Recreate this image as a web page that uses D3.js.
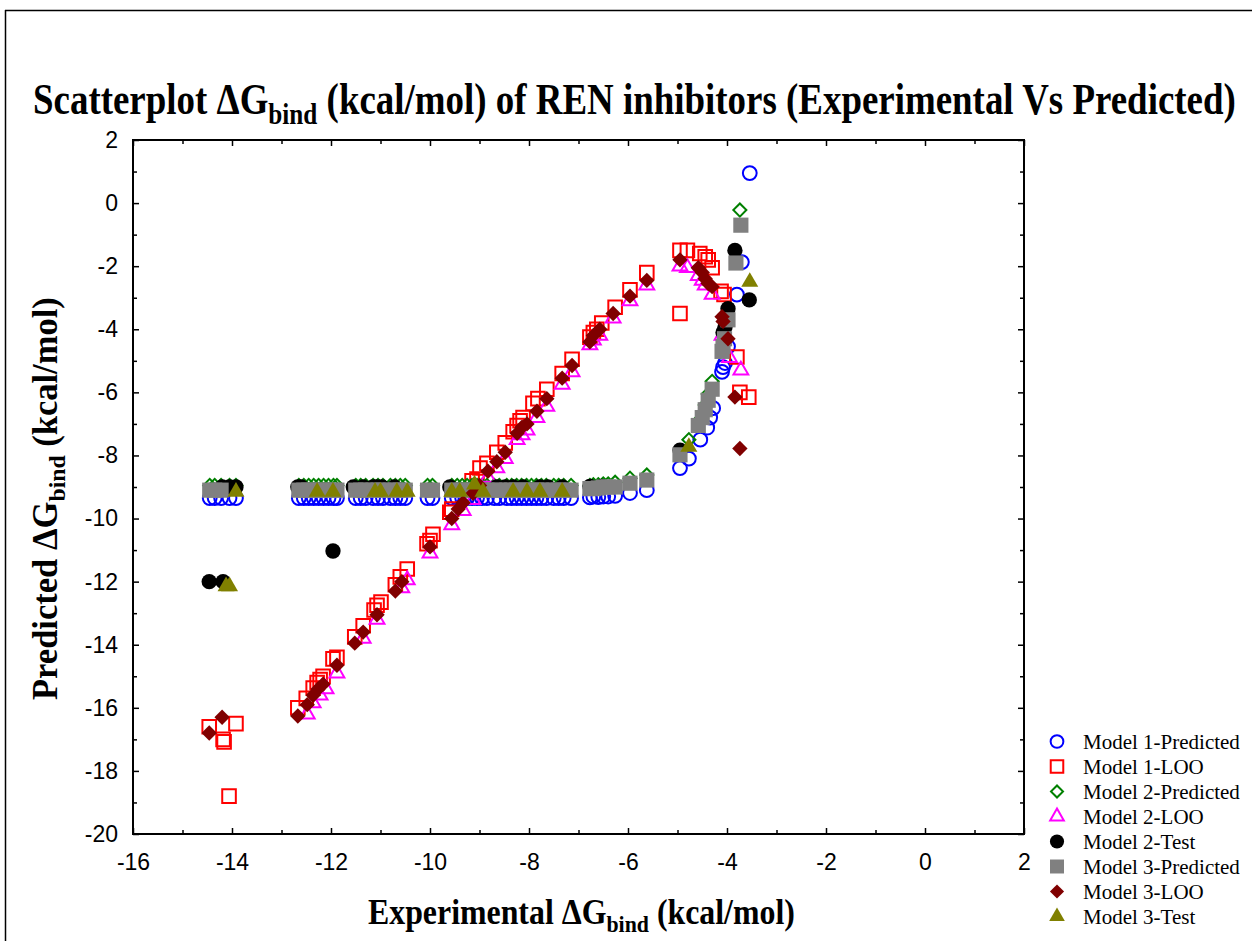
<!DOCTYPE html>
<html>
<head>
<meta charset="utf-8">
<script src="https://cdn.jsdelivr.net/npm/d3@7"></script>
<style>
  body { margin: 0; background: #fff; }
  svg { display: block; }
</style>
</head>
<body>
<svg id="chart" width="1252" height="941"></svg>
<script>

// ---- data (experimental dG, predicted dG) ----

var xTicks = [-16, -14, -12, -10, -8, -6, -4, -2, 0, 2];
var yTicks = [-20, -18, -16, -14, -12, -10, -8, -6, -4, -2, 0, 2];

var m1Pred = [
  [-14.45,-9.35],[-14.35,-9.35],[-14.22,-9.35],[-14.05,-9.35],[-13.92,-9.35],
  [-12.65,-9.35],[-12.55,-9.35],[-12.45,-9.35],[-12.35,-9.35],[-12.25,-9.35],[-12.15,-9.35],[-12.05,-9.35],[-11.95,-9.35],[-11.88,-9.35],
  [-11.5,-9.35],[-11.4,-9.35],[-11.3,-9.35],[-11.15,-9.35],[-11.05,-9.35],[-10.95,-9.35],[-10.8,-9.35],[-10.7,-9.35],[-10.6,-9.35],[-10.5,-9.35],
  [-10.05,-9.35],[-9.95,-9.35],
  [-9.56,-9.35],[-9.45,-9.35],[-9.35,-9.35],[-9.25,-9.35],[-9.15,-9.35],[-9.05,-9.35],[-8.95,-9.35],[-8.85,-9.35],[-8.7,-9.35],[-8.6,-9.35],
  [-8.45,-9.35],[-8.35,-9.35],[-8.25,-9.35],[-8.15,-9.35],[-8.05,-9.35],[-7.95,-9.35],[-7.85,-9.35],[-7.75,-9.35],[-7.65,-9.35],[-7.5,-9.35],
  [-7.4,-9.35],[-7.3,-9.35],[-7.15,-9.35],
  [-6.77,-9.33],[-6.7,-9.3],[-6.6,-9.32],[-6.5,-9.3],[-6.4,-9.3],[-6.26,-9.28],[-5.96,-9.19],[-5.62,-9.1],
  [-4.95,-8.4],[-4.77,-8.1],[-4.54,-7.5],[-4.4,-7.12],[-4.34,-6.8],[-4.28,-6.5],[-4.1,-5.35],[-4.08,-5.2],[-4.04,-5.07],
  [-3.98,-4.55],[-3.8,-2.9],[-3.7,-1.87],[-3.54,0.95]
];

var m1Loo = [
  [-14.46,-16.6],[-13.92,-16.5],[-14.18,-17.0],[-14.16,-17.08],[-14.06,-18.8],
  [-12.67,-16.0],[-12.5,-15.7],[-12.36,-15.37],[-12.28,-15.2],[-12.22,-15.1],[-12.16,-15.0],[-11.96,-14.45],[-11.88,-14.4],
  [-11.52,-13.75],[-11.35,-13.4],[-11.13,-12.9],[-11.07,-12.75],[-10.99,-12.65],[-10.7,-12.1],[-10.6,-11.85],[-10.46,-11.6],
  [-10.06,-10.8],[-10.0,-10.7],[-9.94,-10.5],[-9.6,-9.8],[-9.56,-9.7],[-9.15,-8.8],[-9.05,-8.75],[-8.99,-8.4],[-8.85,-8.25],
  [-8.65,-7.9],[-8.48,-7.6],[-8.32,-7.25],[-8.24,-7.05],[-8.18,-6.9],[-8.12,-6.8],[-7.92,-6.35],[-7.82,-6.2],[-7.64,-5.9],
  [-7.33,-5.4],[-7.13,-4.95],[-6.77,-4.25],[-6.7,-4.1],[-6.63,-4.0],[-6.53,-3.8],[-6.26,-3.3],[-5.96,-2.75],[-5.62,-2.2],
  [-4.95,-1.5],[-4.8,-1.5],[-4.55,-1.6],[-4.44,-1.7],[-4.38,-1.8],[-4.3,-2.05],[-4.12,-2.8],[-4.06,-2.9],
  [-4.95,-3.5],[-3.8,-4.88],[-3.74,-6.0],[-3.56,-6.15]
];

var m2Pred = [
  [-14.45,-8.95],[-14.35,-8.95],[-14.22,-8.95],[-14.05,-8.95],[-13.92,-8.95],
  [-12.65,-8.95],[-12.55,-8.95],[-12.45,-8.95],[-12.35,-8.95],[-12.25,-8.95],[-12.15,-8.95],[-12.05,-8.95],[-11.95,-8.95],[-11.88,-8.95],
  [-11.5,-8.95],[-11.4,-8.95],[-11.3,-8.95],[-11.15,-8.95],[-11.05,-8.95],[-10.95,-8.95],[-10.8,-8.95],[-10.7,-8.95],[-10.6,-8.95],[-10.5,-8.95],
  [-10.05,-8.95],[-9.95,-8.95],
  [-9.56,-8.95],[-9.45,-8.95],[-9.35,-8.95],[-9.25,-8.95],[-9.15,-8.95],[-9.05,-8.95],[-8.95,-8.95],[-8.85,-8.95],[-8.7,-8.95],[-8.6,-8.95],
  [-8.45,-8.95],[-8.35,-8.95],[-8.25,-8.95],[-8.15,-8.95],[-8.05,-8.95],[-7.95,-8.95],[-7.85,-8.95],[-7.75,-8.95],[-7.65,-8.95],[-7.5,-8.95],
  [-7.4,-8.95],[-7.3,-8.95],[-7.15,-8.95],
  [-6.77,-8.95],[-6.7,-8.93],[-6.6,-8.93],[-6.5,-8.9],[-6.4,-8.9],[-6.26,-8.85],[-5.96,-8.72],[-5.62,-8.62],
  [-4.77,-7.5],[-4.54,-6.85],[-4.44,-6.4],[-4.38,-6.05],[-4.3,-5.65],[-3.74,-0.22]
];

var m2Loo = [
  [-12.48,-16.2],[-12.36,-15.85],[-12.22,-15.6],[-12.1,-15.4],[-11.88,-14.9],[-11.35,-13.8],[-11.07,-13.2],
  [-10.57,-12.2],[-10.46,-11.95],[-10.0,-11.1],[-9.56,-10.2],[-9.33,-9.75],[-9.13,-9.4],[-8.83,-8.7],[-8.65,-8.4],
  [-8.48,-8.1],[-8.24,-7.5],[-8.14,-7.35],[-8.04,-7.2],[-7.84,-6.8],[-7.64,-6.45],[-7.33,-5.75],[-7.13,-5.35],
  [-6.77,-4.5],[-6.7,-4.35],[-6.57,-4.2],[-6.3,-3.65],[-5.96,-3.1],[-5.62,-2.6],
  [-4.95,-2.0],[-4.8,-2.05],[-4.58,-2.3],[-4.5,-2.45],[-4.44,-2.6],[-4.3,-2.9],[-4.1,-4.2],[-3.95,-4.9],[-3.72,-5.3]
];

var m2Test = [
  [-14.46,-12.0],[-14.18,-12.0],[-11.96,-11.03],
  [-14.2,-9.0],[-14.05,-9.0],[-13.92,-9.0],[-12.67,-9.0],[-12.6,-9.0],[-11.55,-9.0],[-11.35,-9.0],[-11.15,-9.0],
  [-11.07,-9.0],[-10.97,-9.0],[-10.72,-9.0],[-9.6,-9.0],[-8.65,-9.0],[-8.48,-9.0],[-8.32,-9.0],[-8.12,-9.0],
  [-7.78,-9.0],[-7.62,-9.0],[-7.33,-9.0],[-6.77,-8.98],[-6.53,-8.98],
  [-4.95,-7.83],[-4.08,-4.1],[-4.04,-3.93],[-3.98,-3.35],[-3.84,-1.5],[-3.55,-3.07]
];

var m3Pred = [
  [-14.45,-9.1],[-14.35,-9.1],[-14.22,-9.1],
  [-12.65,-9.1],[-12.55,-9.1],[-12.45,-9.1],[-12.35,-9.1],[-12.25,-9.1],[-12.15,-9.1],[-12.05,-9.1],[-11.95,-9.1],[-11.88,-9.1],
  [-11.5,-9.1],[-11.4,-9.1],[-11.3,-9.1],[-11.15,-9.1],[-11.05,-9.1],[-10.95,-9.1],[-10.8,-9.1],[-10.7,-9.1],[-10.6,-9.1],[-10.5,-9.1],
  [-10.05,-9.1],[-9.95,-9.1],
  [-9.56,-9.1],[-9.45,-9.1],[-9.35,-9.1],[-9.25,-9.1],[-9.15,-9.1],[-9.05,-9.1],[-8.95,-9.1],[-8.85,-9.1],[-8.7,-9.1],[-8.6,-9.1],
  [-8.45,-9.1],[-8.35,-9.1],[-8.25,-9.1],[-8.15,-9.1],[-8.05,-9.1],[-7.95,-9.1],[-7.85,-9.1],[-7.75,-9.1],[-7.65,-9.1],[-7.5,-9.1],
  [-7.4,-9.1],[-7.3,-9.1],[-7.15,-9.1],
  [-6.77,-9.05],[-6.7,-9.05],[-6.6,-9.03],[-6.5,-9.0],[-6.4,-9.0],[-6.26,-9.0],[-5.96,-8.88],[-5.62,-8.78],
  [-4.95,-7.98],[-4.58,-7.05],[-4.5,-6.8],[-4.44,-6.55],[-4.38,-6.25],[-4.3,-5.9],[-4.1,-4.7],[-4.08,-4.55],[-4.05,-4.3],
  [-3.98,-3.7],[-3.82,-1.9],[-3.72,-0.7]
];

var m3Loo = [
  [-14.46,-16.8],[-14.2,-16.3],
  [-12.67,-16.26],[-12.48,-15.9],[-12.36,-15.6],[-12.26,-15.4],[-12.16,-15.25],[-11.88,-14.65],[-11.52,-13.95],[-11.35,-13.6],
  [-11.07,-13.05],[-10.7,-12.3],[-10.57,-12.0],[-10.0,-10.9],[-9.56,-10.0],[-9.43,-9.7],[-9.33,-9.5],[-9.13,-9.2],[-9.0,-8.95],
  [-8.83,-8.5],[-8.65,-8.2],[-8.48,-7.9],[-8.24,-7.3],[-8.14,-7.1],[-8.04,-7.0],[-7.84,-6.6],[-7.64,-6.2],[-7.33,-5.55],
  [-7.13,-5.15],[-6.77,-4.4],[-6.7,-4.2],[-6.57,-4.0],[-6.3,-3.5],[-5.96,-2.95],[-5.62,-2.45],
  [-4.95,-1.8],[-4.58,-2.05],[-4.5,-2.2],[-4.44,-2.4],[-4.38,-2.55],[-4.3,-2.65],[-4.1,-3.6],[-4.08,-3.75],[-3.98,-4.3],
  [-3.84,-6.15],[-3.74,-7.78]
];

var m3Test = [
  [-14.12,-12.15],[-14.05,-12.15],
  [-13.92,-9.15],[-12.28,-9.15],[-11.96,-9.15],[-11.11,-9.15],[-11.0,-9.15],[-10.67,-9.15],[-10.46,-9.15],
  [-9.56,-9.15],[-9.4,-9.15],[-9.1,-8.92],[-8.93,-9.15],[-8.32,-9.15],[-8.04,-9.15],[-7.78,-9.15],[-7.33,-9.15],
  [-4.77,-7.73],[-3.54,-2.5]
];

var seriesNames = ['Model 1-Predicted', 'Model 1-LOO', 'Model 2-Predicted', 'Model 2-LOO',
                   'Model 2-Test', 'Model 3-Predicted', 'Model 3-LOO', 'Model 3-Test'];

// ---- marker styles ----
var styles = [
  {data: m1Pred, shape: d3.symbolCircle,   size: 150, fill: 'none',    stroke: '#0000ff', rot: 0},
  {data: m1Loo,  shape: d3.symbolSquare,   size: 185, fill: 'none',    stroke: '#ff0000', rot: 0},
  {data: m2Pred, shape: d3.symbolSquare,   size: 85,  fill: 'none',    stroke: '#008000', rot: 45},
  {data: m2Loo,  shape: d3.symbolTriangle, size: 95,  fill: 'none',    stroke: '#ff00ff', rot: 0},
  {data: m2Test, shape: d3.symbolCircle,   size: 185, fill: '#000000', stroke: 'none',    rot: 0},
  {data: m3Pred, shape: d3.symbolSquare,   size: 230, fill: '#808080', stroke: 'none',    rot: 0},
  {data: m3Loo,  shape: d3.symbolSquare,   size: 118, fill: '#800000', stroke: 'none',    rot: 45},
  {data: m3Test, shape: d3.symbolTriangle, size: 125, fill: '#808000', stroke: 'none',    rot: 0}
];

function drawChart(){

  var svg = d3.select('#chart');

  // outer frame (only top and left edges visible)
  svg.append('line').attr('x1', 5).attr('y1', 10.5).attr('x2', 1252).attr('y2', 10.5)
    .attr('stroke', '#000').attr('stroke-width', 1.5);
  svg.append('line').attr('x1', 5.5).attr('y1', 10).attr('x2', 5.5).attr('y2', 941)
    .attr('stroke', '#000').attr('stroke-width', 1.5);

  var pLeft = 133, pRight = 1024, pTop = 140, pBottom = 834;

  var x = d3.scaleLinear().domain([-16, 2]).range([pLeft, pRight]);
  var y = d3.scaleLinear().domain([-20, 2]).range([pBottom, pTop]);

  var minorX = d3.range(-15, 2, 2);
  var minorY = d3.range(-19, 2, 2);
  var fmt = function(d){ return String(d); };

  function styleAxis(g){
    g.select('.domain').remove();
    g.selectAll('.tick line').attr('stroke', '#000').attr('stroke-width', 1.5);
    g.selectAll('.tick text')
      .attr('font-family', 'Liberation Sans, Arial, sans-serif')
      .attr('font-size', 23)
      .attr('fill', '#000');
  }

  // bottom axis with labels
  svg.append('g')
    .attr('transform', 'translate(0,' + pBottom + ')')
    .call(d3.axisBottom(x).tickValues(xTicks).tickFormat(fmt).tickSize(-6).tickPadding(20))
    .call(styleAxis);
  svg.append('g')
    .attr('transform', 'translate(0,' + pBottom + ')')
    .call(d3.axisBottom(x).tickValues(minorX).tickFormat('').tickSize(-4))
    .call(styleAxis);

  // top axis, ticks only
  svg.append('g')
    .attr('transform', 'translate(0,' + pTop + ')')
    .call(d3.axisTop(x).tickValues(xTicks).tickFormat('').tickSize(-6))
    .call(styleAxis);
  svg.append('g')
    .attr('transform', 'translate(0,' + pTop + ')')
    .call(d3.axisTop(x).tickValues(minorX).tickFormat('').tickSize(-4))
    .call(styleAxis);

  // left axis with labels
  svg.append('g')
    .attr('transform', 'translate(' + pLeft + ',0)')
    .call(d3.axisLeft(y).tickValues(yTicks).tickFormat(fmt).tickSize(-6).tickPadding(15))
    .call(styleAxis);
  svg.append('g')
    .attr('transform', 'translate(' + pLeft + ',0)')
    .call(d3.axisLeft(y).tickValues(minorY).tickFormat('').tickSize(-4))
    .call(styleAxis);

  // right axis, ticks only
  svg.append('g')
    .attr('transform', 'translate(' + pRight + ',0)')
    .call(d3.axisRight(y).tickValues(yTicks).tickFormat('').tickSize(-6))
    .call(styleAxis);
  svg.append('g')
    .attr('transform', 'translate(' + pRight + ',0)')
    .call(d3.axisRight(y).tickValues(minorY).tickFormat('').tickSize(-4))
    .call(styleAxis);

  // plot frame
  svg.append('rect')
    .attr('x', pLeft).attr('y', pTop)
    .attr('width', pRight - pLeft).attr('height', pBottom - pTop)
    .attr('fill', 'none').attr('stroke', '#000').attr('stroke-width', 2);

  // points
  styles.forEach(function(s){
    var sym = d3.symbol().type(s.shape).size(s.size);
    svg.append('g').selectAll('path')
      .data(s.data)
      .enter()
      .append('path')
        .attr('d', sym)
        .attr('transform', function(d){ return 'translate(' + x(d[0]) + ',' + y(d[1]) + ') rotate(' + s.rot + ')'; })
        .attr('fill', s.fill)
        .attr('stroke', s.stroke)
        .attr('stroke-width', 2);
  });

  // legend
  var legend = svg.append('g');
  seriesNames.forEach(function(name, i){
    var s = styles[i];
    var ly = 741.5 + i * 25;
    legend.append('path')
      .attr('d', d3.symbol().type(s.shape).size(s.size * 0.85))
      .attr('transform', 'translate(1057,' + ly + ') rotate(' + s.rot + ')')
      .attr('fill', s.fill)
      .attr('stroke', s.stroke)
      .attr('stroke-width', 2);
    legend.append('text')
      .attr('x', 1083).attr('y', ly + 7)
      .attr('font-family', 'Liberation Serif, Times New Roman, serif')
      .attr('font-size', 21)
      .attr('fill', '#000')
      .text(name);
  });

  // text with a "bind" subscript, squeezed to a given width
  function dgText(before, after, size, subSize, shift){
    var t = svg.append('text')
      .attr('font-family', 'Liberation Serif, Times New Roman, serif')
      .attr('font-weight', 'bold')
      .attr('font-size', size)
      .attr('fill', '#000');
    t.append('tspan').text(before + '\u0394G');
    t.append('tspan').attr('font-size', subSize).attr('dy', shift).text('bind');
    t.append('tspan').attr('dy', -shift).text(after);
    return t;
  }

  function fit(t, x0, y0, width, rotate){
    var w = t.node().getBBox().width;
    var k = width / w;
    if (rotate) {
      t.attr('transform', 'translate(' + x0 + ',' + y0 + ') rotate(-90) scale(' + k + ',1)');
    } else {
      t.attr('transform', 'translate(' + x0 + ',' + y0 + ') scale(' + k + ',1)');
    }
  }

  var title = dgText('Scatterplot ', ' (kcal/mol) of REN inhibitors (Experimental Vs Predicted)', 44, 30, 10);
  fit(title, 33, 114, 1203, false);

  var xLabel = dgText('Experimental ', ' (kcal/mol)', 35, 24, 8);
  fit(xLabel, 368, 924, 427, false);

  var yLabel = dgText('Predicted ', ' (kcal/mol)', 35, 24, 8);
  fit(yLabel, 57, 700, 403, true);
}

drawChart();

</script>
</body>
</html>
